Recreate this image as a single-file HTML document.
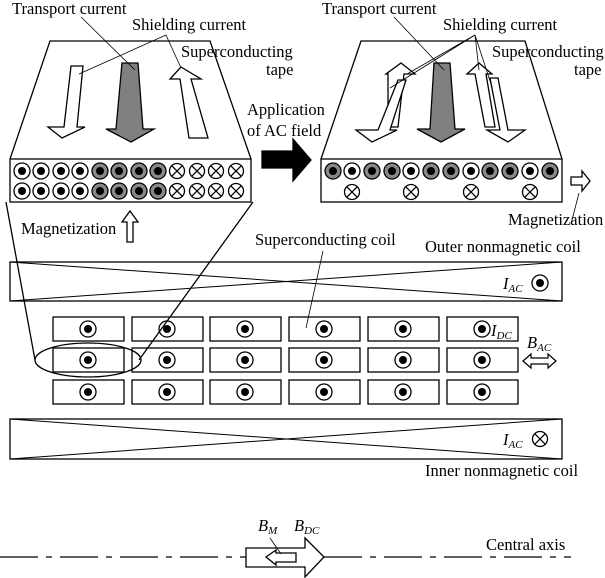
<!DOCTYPE html>
<html><head><meta charset="utf-8"><style>
html,body{margin:0;padding:0;background:#fff;}
svg{display:block;}
text{font-family:"Liberation Serif",serif;font-size:16.5px;fill:#000;}
.i{font-style:italic;}
</style></head><body>
<svg width="605" height="578" viewBox="0 0 605 578" xmlns="http://www.w3.org/2000/svg">
<defs>
<g id="dot"><circle r="8" fill="#fff" stroke="#000" stroke-width="1.3"/><circle r="4" fill="#000"/></g>
<g id="gdot"><circle r="8" fill="#888" stroke="#000" stroke-width="1.3"/><circle r="4" fill="#000"/></g>
<g id="xc"><circle r="7.5" fill="#fff" stroke="#000" stroke-width="1.3"/><path d="M-5.3,-5.3L5.3,5.3M-5.3,5.3L5.3,-5.3" stroke="#000" stroke-width="1.3"/></g>
</defs>
<g fill="none" stroke="#000" stroke-width="1.3">
<path d="M10,159 L50,41 L210,41 L251,159"/>
<rect x="10" y="159" width="241" height="43" fill="#fff"/>
<path d="M321,159 L361,41 L525,41 L562,159"/>
<rect x="321" y="159" width="241" height="43" fill="#fff"/>
</g>
<g stroke="#000" stroke-width="1.3" stroke-linejoin="miter">
<path d="M71,66 L83,66 L77,127 L85,127 L62,138 L48,127 L64,127 Z" fill="#fff"/>
<path d="M122,63 L138,63 L143,129 L154,129 L131,142 L106,129 L116,129 Z" fill="#808080"/>
<path d="M181,67 L201,79 L191,79 L208,138 L189,138 L180,79 L170,79 Z" fill="#fff"/>
<path d="M401,63 L415,74 L404,74 L398,127 L388,127 L388,74 L386,74 Z" fill="#fff"/>
<path d="M398,80 L406,80 L390,130 L397,130 L372,142 L356,130 L378,130 Z" fill="#fff"/>
<path d="M434,63 L450,63 L455,129 L465,129 L441,142 L417,129 L430,129 Z" fill="#808080"/>
<path d="M479,63 L492,74 L486,74 L495,127 L485,127 L475,74 L467,74 Z" fill="#fff"/>
<path d="M490,78 L498,78 L508,130 L525,130 L508,142 L487,130 L500,130 Z" fill="#fff"/>
<path d="M262,151 L293,151 L293,139 L311,160 L293,181 L293,168 L262,168 Z" fill="#000"/>
<path d="M130,211 L138,222 L133,222 L133,242 L127,242 L127,222 L122,222 Z" fill="#fff"/>
<path d="M571,177 L582,177 L582,171 L590,181 L582,191 L582,185 L571,185 Z" fill="#fff"/>
</g>
<g stroke="#000" stroke-width="0.8" fill="none">
<path d="M81,17 L135,70"/>
<path d="M79,74 L166,35 L181,68"/>
<path d="M394,17 L444,70"/>
<path d="M407,74 L475,35 L390,88 M475,35 L479,70 M475,35 L492,87"/>
<path d="M579,193 L571,224"/>
</g>
<g>
<use href="#dot" x="22" y="171"/><use href="#dot" x="41" y="171"/><use href="#dot" x="61" y="171"/><use href="#dot" x="80" y="171"/>
<use href="#gdot" x="100" y="171"/><use href="#gdot" x="119" y="171"/><use href="#gdot" x="139" y="171"/><use href="#gdot" x="158" y="171"/>
<use href="#xc" x="177" y="171"/><use href="#xc" x="197" y="171"/><use href="#xc" x="216" y="171"/><use href="#xc" x="236" y="171"/>
<use href="#dot" x="22" y="191"/><use href="#dot" x="41" y="191"/><use href="#dot" x="61" y="191"/><use href="#dot" x="80" y="191"/>
<use href="#gdot" x="100" y="191"/><use href="#gdot" x="119" y="191"/><use href="#gdot" x="139" y="191"/><use href="#gdot" x="158" y="191"/>
<use href="#xc" x="177" y="191"/><use href="#xc" x="197" y="191"/><use href="#xc" x="216" y="191"/><use href="#xc" x="236" y="191"/>
<use href="#gdot" x="333" y="171"/><use href="#dot" x="352" y="171"/><use href="#gdot" x="372" y="171"/><use href="#gdot" x="392" y="171"/>
<use href="#dot" x="411" y="171"/><use href="#gdot" x="431" y="171"/><use href="#gdot" x="451" y="171"/><use href="#dot" x="471" y="171"/>
<use href="#gdot" x="490" y="171"/><use href="#gdot" x="510" y="171"/><use href="#dot" x="530" y="171"/><use href="#gdot" x="550" y="171"/>
<use href="#xc" x="352" y="192"/><use href="#xc" x="411" y="192"/><use href="#xc" x="471" y="192"/><use href="#xc" x="530" y="192"/>
</g>
<g fill="none" stroke="#000" stroke-width="1.3">
<rect x="10" y="262" width="552" height="39"/>
<path d="M10,262 L562,301 M10,301 L562,262" stroke-width="1"/>
<rect x="10" y="419" width="552" height="40"/>
<path d="M10,419 L562,459 M10,459 L562,419" stroke-width="1"/>
</g>
<use href="#dot" x="540" y="283"/>
<use href="#xc" x="540" y="439"/>
<g fill="#fff" stroke="#000" stroke-width="1.3">
<rect x="53" y="317" width="71" height="24"/><rect x="132" y="317" width="71" height="24"/><rect x="210" y="317" width="71" height="24"/><rect x="289" y="317" width="71" height="24"/><rect x="368" y="317" width="71" height="24"/><rect x="447" y="317" width="71" height="24"/>
<rect x="53" y="348" width="71" height="24"/><rect x="132" y="348" width="71" height="24"/><rect x="210" y="348" width="71" height="24"/><rect x="289" y="348" width="71" height="24"/><rect x="368" y="348" width="71" height="24"/><rect x="447" y="348" width="71" height="24"/>
<rect x="53" y="380" width="71" height="24"/><rect x="132" y="380" width="71" height="24"/><rect x="210" y="380" width="71" height="24"/><rect x="289" y="380" width="71" height="24"/><rect x="368" y="380" width="71" height="24"/><rect x="447" y="380" width="71" height="24"/>
</g>
<g>
<use href="#dot" x="88" y="329"/><use href="#dot" x="167" y="329"/><use href="#dot" x="245" y="329"/><use href="#dot" x="324" y="329"/><use href="#dot" x="403" y="329"/><use href="#dot" x="482" y="329"/>
<use href="#dot" x="88" y="360"/><use href="#dot" x="167" y="360"/><use href="#dot" x="245" y="360"/><use href="#dot" x="324" y="360"/><use href="#dot" x="403" y="360"/><use href="#dot" x="482" y="360"/>
<use href="#dot" x="88" y="392"/><use href="#dot" x="167" y="392"/><use href="#dot" x="245" y="392"/><use href="#dot" x="324" y="392"/><use href="#dot" x="403" y="392"/><use href="#dot" x="482" y="392"/>
</g>
<g fill="none" stroke="#000" stroke-width="1.3">
<ellipse cx="88" cy="360" rx="53" ry="17"/>
<path d="M6,202 L35,360"/>
<path d="M253,202 L139,360"/>
</g>
<path d="M323,251 L306,328" stroke="#000" stroke-width="0.8"/>
<path d="M523,361 L531,354 L531,358 L548,358 L548,354 L556,361 L548,368 L548,364 L531,364 L531,368 Z" fill="#fff" stroke="#000" stroke-width="1.2"/>
<path d="M0,557 L246,557 M324,557 L571,557" stroke="#000" stroke-width="1.2" stroke-dasharray="38 8 6 8"/>
<path d="M246,548 L305,548 L305,538 L324,557 L305,577 L305,567 L246,567 Z" fill="#fff" stroke="#000" stroke-width="1.3"/>
<path d="M266,557 L276,550 L276,553 L296,553 L296,562 L276,562 L276,565 Z" fill="#fff" stroke="#000" stroke-width="1.3"/>
<path d="M270,538 L281,554" stroke="#000" stroke-width="0.8"/>
<text x="12" y="14">Transport current</text>
<text x="132" y="30">Shielding current</text>
<text x="181" y="57">Superconducting</text>
<text x="266" y="75">tape</text>
<text x="322" y="14">Transport current</text>
<text x="443" y="30">Shielding current</text>
<text x="492" y="57">Superconducting</text>
<text x="574" y="75">tape</text>
<text x="247" y="115">Application</text>
<text x="247" y="136">of AC field</text>
<text x="21" y="234">Magnetization</text>
<text x="508" y="225">Magnetization</text>
<text x="255" y="245">Superconducting coil</text>
<text x="425" y="252">Outer nonmagnetic coil</text>
<text x="425" y="476">Inner nonmagnetic coil</text>
<text x="486" y="550">Central axis</text>
<text x="503" y="289" class="i">I<tspan font-size="11" dy="3">AC</tspan></text>
<text x="503" y="445" class="i">I<tspan font-size="11" dy="3">AC</tspan></text>
<text x="491" y="336" class="i">I<tspan font-size="11" dy="3">DC</tspan></text>
<text x="527" y="348" class="i">B<tspan font-size="11" dy="3">AC</tspan></text>
<text x="258" y="531" class="i">B<tspan font-size="11" dy="3">M</tspan></text>
<text x="294" y="531" class="i">B<tspan font-size="11" dy="3">DC</tspan></text>
</svg>
</body></html>
